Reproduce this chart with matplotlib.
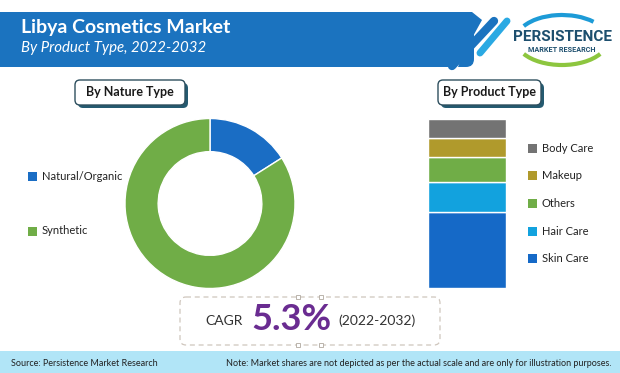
import matplotlib
matplotlib.use("Agg")
import matplotlib.pyplot as plt
from matplotlib.patches import FancyBboxPatch, Rectangle, Polygon, Arc

W, H = 620, 373

# data
nature_labels = ["Natural/Organic", "Synthetic"]
nature_share = [16, 84]
nature_colors = ["#1a6dc4", "#70ad47"]

product_labels = ["Skin Care", "Hair Care", "Others", "Makeup", "Body Care"]
product_share = [45, 17.5, 15, 11.5, 11]
product_colors = ["#1569c7", "#12a2de", "#70ad47", "#b09a2c", "#737373"]

cagr = "5.3%"
period = "(2022-2032)"

FONT = "Lato"

fig = plt.figure(figsize=(W / 100, H / 100), dpi=100)
bg = fig.add_axes([0, 0, 1, 1])
bg.set_xlim(0, W)
bg.set_ylim(H, 0)
bg.axis("off")


def fig_rect(x0, y0, x1, y1):
    return [x0 / W, 1 - y1 / H, (x1 - x0) / W, (y1 - y0) / H]


# header band
bg.add_patch(FancyBboxPatch((-10, 12), 484, 55, boxstyle="round,pad=0,rounding_size=8",
                            fc="#1b73bf", ec="none"))
bg.add_patch(Polygon([(440, 12), (480, 12), (458, 67), (440, 67)], closed=True,
                     fc="white", ec="none"))
bg.add_patch(Polygon([(440, 12), (472, 12), (482, 20), (456, 67), (440, 67)], closed=True,
                     fc="#1b73bf", ec="none"))
bg.plot([452, 494], [66, 21], color="#1b73bf", lw=6, solid_capstyle="round")
bg.plot([480, 507], [53, 21], color="#2aa9e3", lw=5, solid_capstyle="round")
bg.text(21, 27, "Libya Cosmetics Market", color="white", fontsize=14,
        fontweight="bold", family=FONT, va="center", ha="left")
bg.text(21, 48, "By Product Type, 2022-2032", color="white", fontsize=10.8,
        style="italic", family=FONT, va="center", ha="left")

# logo
bg.add_patch(Arc((562, 40), 92, 50, theta1=20, theta2=160, color="#8dc63f", lw=3))
bg.add_patch(Arc((562, 40), 92, 50, theta1=200, theta2=330, color="#1d9bd7", lw=3))
bg.text(562, 37, "PERSISTENCE", color="#1d4f6e", fontsize=11, fontweight="bold",
        family="Roboto", ha="center", va="center")
bg.text(562, 50, "MARKET RESEARCH", color="#1d4f6e", fontsize=5.2, fontweight="bold",
        family="Roboto", ha="center", va="center")


def label_box(x0, y0, x1, y1, text):
    bg.add_patch(FancyBboxPatch((x0 + 3, y0 + 3), x1 - x0, y1 - y0,
                                boxstyle="round,pad=0,rounding_size=5",
                                fc="#245a70", ec="none"))
    bg.add_patch(FancyBboxPatch((x0, y0), x1 - x0, y1 - y0,
                                boxstyle="round,pad=0,rounding_size=5",
                                fc="white", ec="#2e4f5e", lw=1))
    bg.text((x0 + x1) / 2, (y0 + y1) / 2, text, fontsize=9, fontweight="bold",
            family=FONT, ha="center", va="center", color="#1a1a1a")


label_box(75, 80, 185, 105, "By Nature Type")
label_box(438, 80, 541, 105, "By Product Type")

# donut
dax = fig.add_axes(fig_rect(125, 118.5, 295, 288.5))
dax.pie(nature_share, colors=nature_colors, startangle=90, counterclock=False,
        radius=1, wedgeprops=dict(width=0.39, edgecolor="white", linewidth=1))
dax.set_xlim(-1, 1)
dax.set_ylim(-1, 1)
dax.set_aspect("auto")
dax.axis("off")

for i, (lab, col) in enumerate(zip(nature_labels, nature_colors)):
    y = 176 + i * 55
    bg.add_patch(Rectangle((28, y - 4.5), 9, 9, fc=col, ec="none"))
    bg.text(42, y, lab, fontsize=8, family=FONT, va="center", ha="left", color="#222222")

# stacked bar
bax = fig.add_axes(fig_rect(428, 119, 506, 288))
bottom = 0
for val, col in zip(product_share, product_colors):
    bax.bar(0, val, bottom=bottom, width=1, color=col, edgecolor="white", linewidth=1)
    bottom += val
bax.set_xlim(-0.5, 0.5)
bax.set_ylim(0, bottom)
bax.axis("off")

for i, (lab, col) in enumerate(zip(product_labels[::-1], product_colors[::-1])):
    y = 148 + i * 27.7
    bg.add_patch(Rectangle((528, y - 4.5), 9, 9, fc=col, ec="none"))
    bg.text(542, y, lab, fontsize=8, family=FONT, va="center", ha="left", color="#222222")

# CAGR box
bg.add_patch(FancyBboxPatch((180, 297), 260, 48, boxstyle="round,pad=0,rounding_size=6",
                            fc="white", ec="#cfc6bd", lw=0.9, ls=(0, (4, 3))))
for hx in (298, 321):
    for hy in (297, 345):
        bg.add_patch(Rectangle((hx - 2, hy - 2), 4, 4, fc="white", ec="#b0a89f", lw=0.6))
bg.text(243, 321, "CAGR", fontsize=10, family=FONT, ha="right", va="center", color="#333333")
bg.text(291, 319, cagr, fontsize=26, fontweight="bold", family=FONT, ha="center",
        va="center", color="#6a2c91")
bg.text(338, 321, period, fontsize=10, family=FONT, ha="left", va="center", color="#333333")

# footer
bg.add_patch(Rectangle((0, 351), W, 22, fc="#b1e5f7", ec="none"))
bg.text(11, 363, "Source: Persistence Market Research", fontsize=6.5, family=FONT,
        ha="left", va="center", color="#222222")
bg.text(612, 363, "Note: Market shares are not depicted as per the actual scale and are "
        "only for illustration purposes.", fontsize=6.5, family=FONT, ha="right",
        va="center", color="#222222")

fig.savefig("out.png", dpi=100)
